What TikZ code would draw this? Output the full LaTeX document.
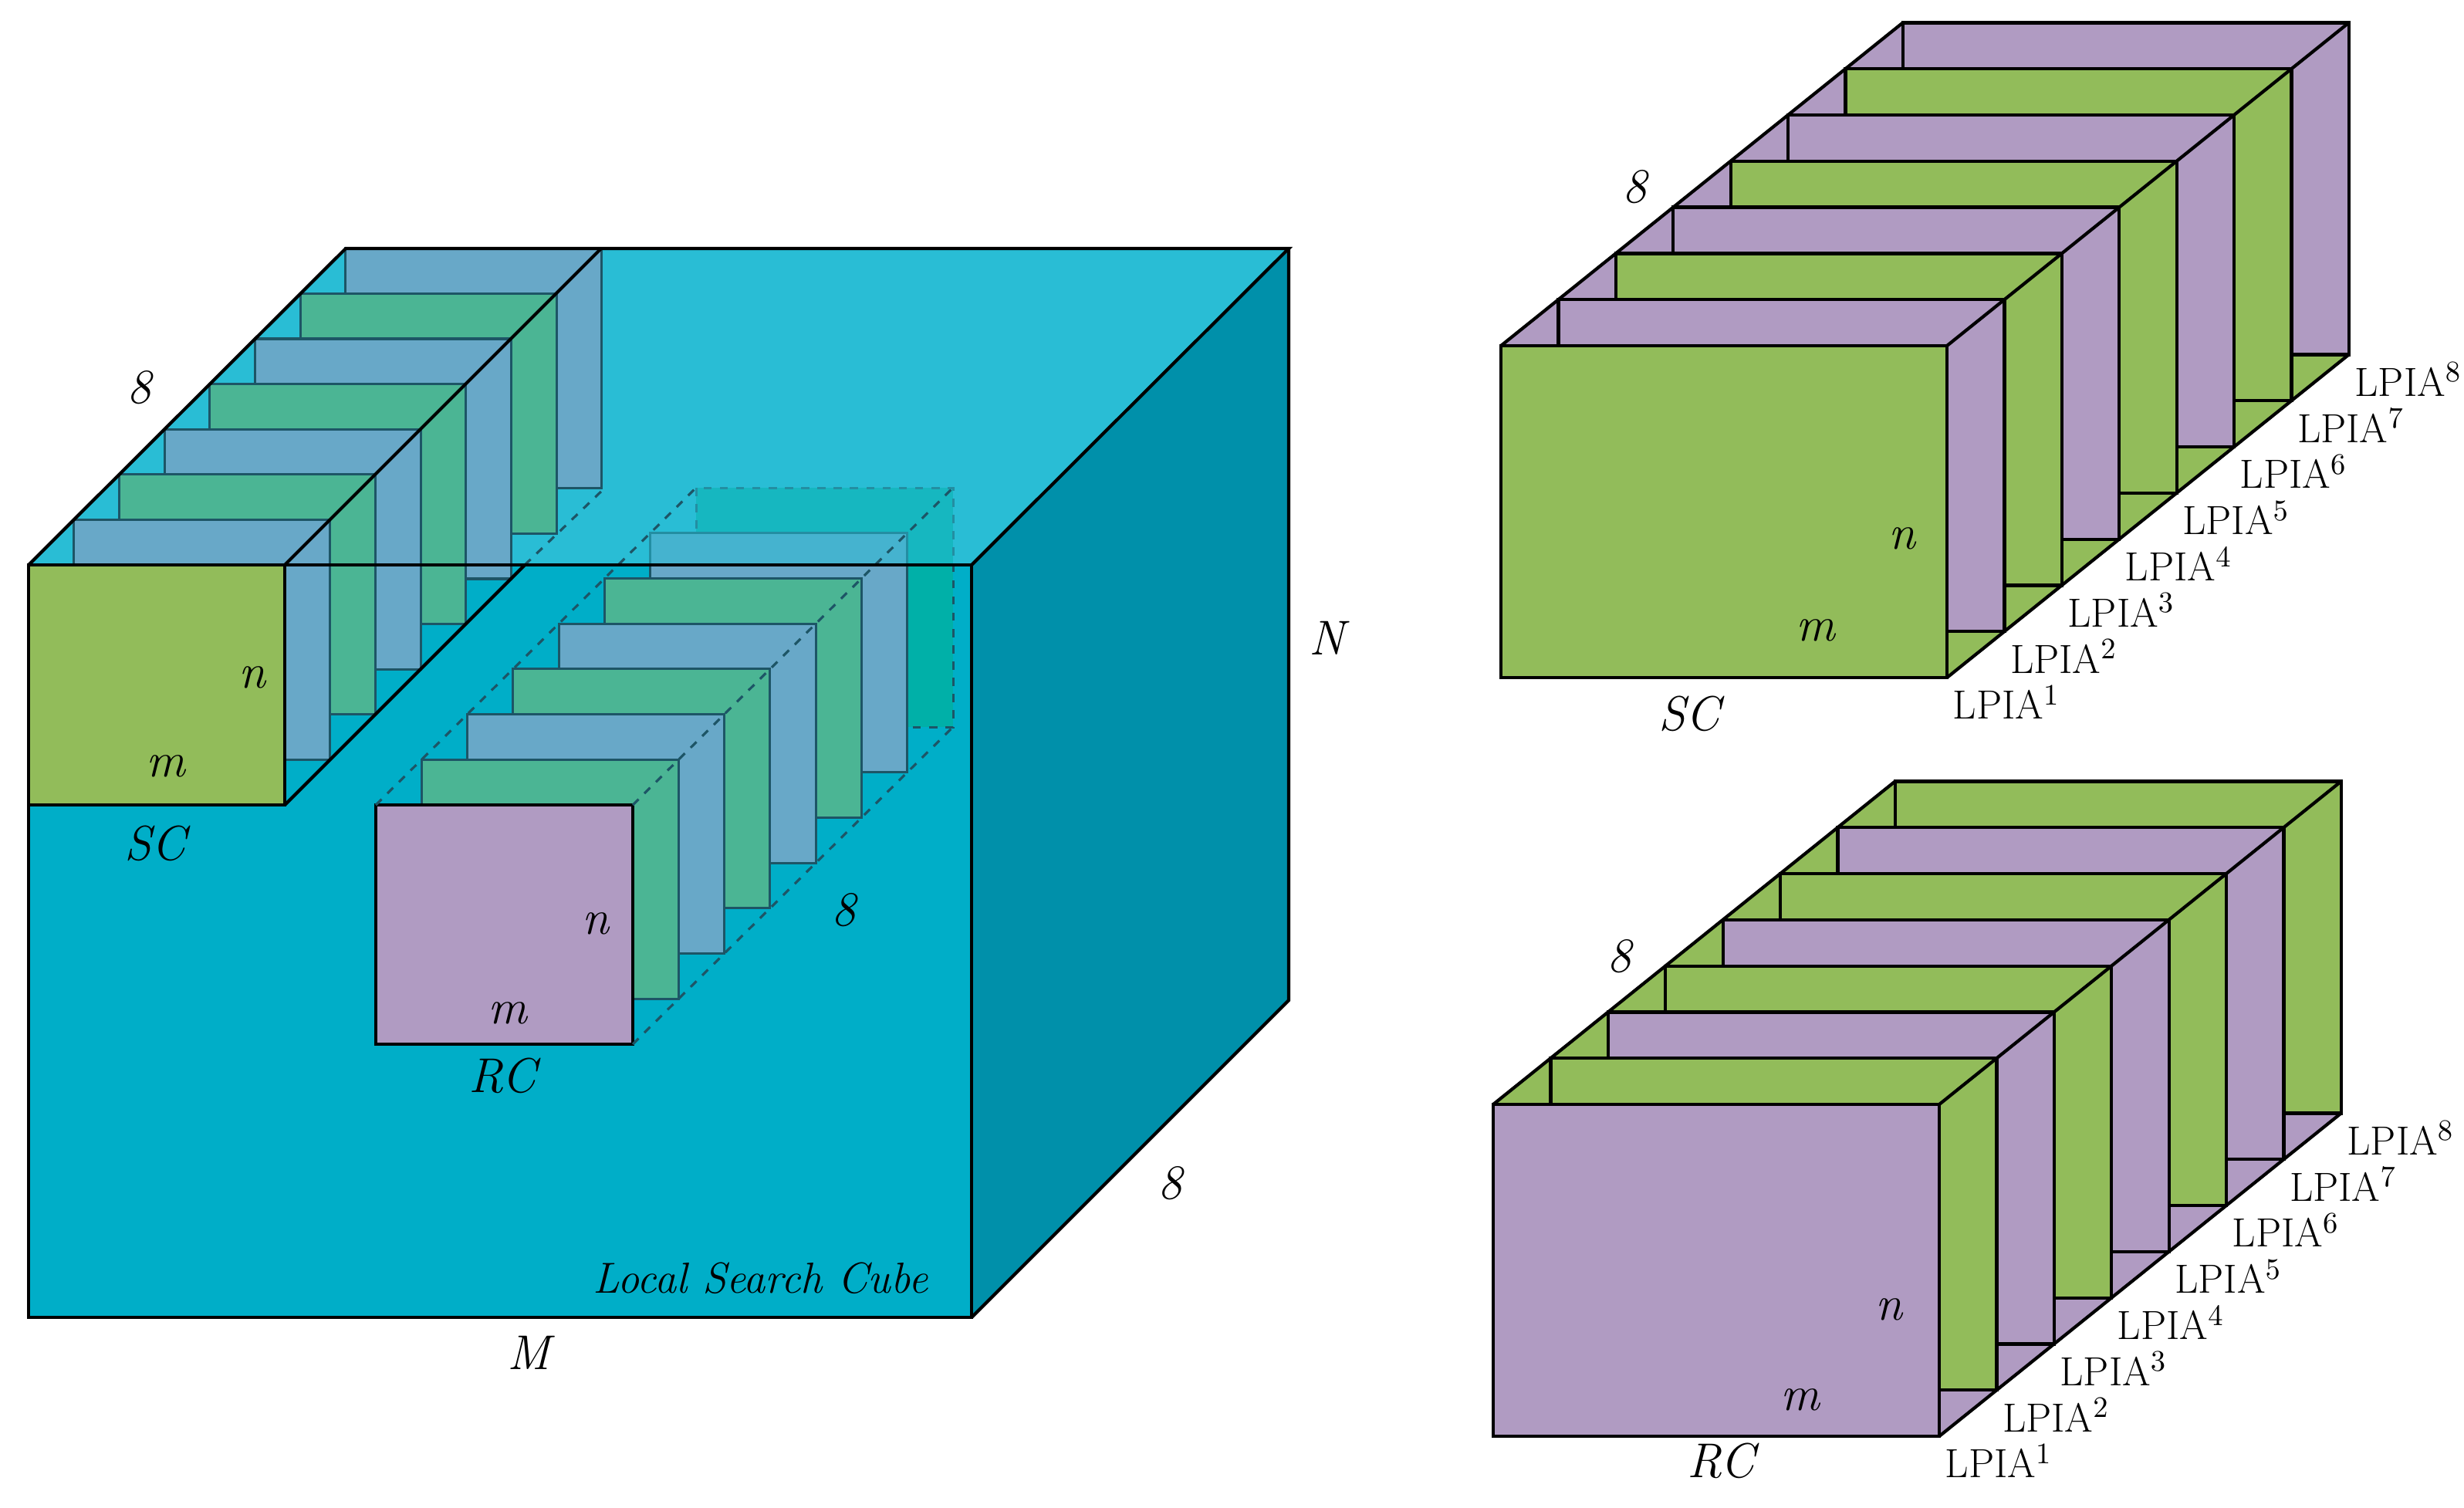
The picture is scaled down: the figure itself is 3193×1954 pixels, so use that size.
\documentclass[tikz,border=0pt]{standalone}
\definecolor{cfront}{HTML}{00AEC8}
\definecolor{ctop}{HTML}{29BDD5}
\definecolor{cright}{HTML}{0090AA}
\definecolor{cgreen}{HTML}{92BC5A}
\definecolor{cpurple}{HTML}{B09BC2}
\definecolor{cblue}{HTML}{68A8C8}
\definecolor{cteal}{HTML}{4BB594}
\definecolor{cback}{HTML}{00B0A8}
\definecolor{cedge}{HTML}{1D5566}
\tikzset{
 lbl/.style={font=\fontsize{18}{21}\selectfont\itshape, inner sep=0pt},
 lp/.style={font=\fontsize{15}{18}\selectfont, inner sep=0pt, anchor=north west},
 edge/.style={draw=black, line width=1.2pt},
 tedge/.style={draw=cedge, line width=0.9pt}
}
\newcommand{\rfig}[4]{%
 \def\XO{#1}\def\YO{#2}%
 \fill[#4] (\XO,\YO) -- ++(520.8,-418.6) -- ++(578,0) -- (\XO+578,\YO) -- cycle;
 \fill[#3] (\XO+578,\YO) -- ++(520.8,-418.6) -- ++(0,430) -- (\XO+578,\YO+430) -- cycle;
 \foreach \k in {7,...,0}{
   \pgfmathtruncatemacro{\pty}{mod(\k,2)}
   \ifnum\pty=0 \def\pc{#3}\else\def\pc{#4}\fi
   \filldraw[fill=\pc, edge] ({\XO+74.4*\k},{\YO-59.8*\k}) rectangle ++(578,430);
 }
 \draw[edge] (\XO,\YO) -- ++(520.8,-418.6);
 \draw[edge] (\XO+578,\YO) -- ++(520.8,-418.6);
 \draw[edge] (\XO+578,\YO+430) -- ++(520.8,-418.6);
 \foreach \k in {1,...,8}{
   \node[lp] at ({\XO+578+74.4*(\k-1)+7},{\YO+430-59.8*(\k-1)+10}) {LPIA$^{\k}$};
 }
}
\begin{document}
\begin{tikzpicture}[x=0.01cm,y=-0.01cm]
\useasboundingbox (0,0) rectangle (3193,1954);
% main cube
\fill[cfront] (37,732) rectangle (1259,1707);
\fill[ctop] (37,732) -- (448,322) -- (1670,322) -- (1259,732) -- cycle;
\fill[cright] (1259,732) -- (1670,322) -- (1670,1296) -- (1259,1707) -- cycle;
% RC plates
\foreach \k in {7,...,1}{
  \pgfmathtruncatemacro{\pty}{mod(\k,2)}
  \ifnum\k=7 \def\pc{cback}\else\ifnum\pty=1 \def\pc{cteal}\else\def\pc{cblue}\fi\fi
  \ifnum\k=7
    \filldraw[fill=\pc, draw=cedge, line width=0.9pt, dashed] ({487+59.3*\k},{1043-58.7*\k}) rectangle ++(333,310);
  \else
    \filldraw[fill=\pc, tedge] ({487+59.3*\k},{1043-58.7*\k}) rectangle ++(333,310);
  \fi
}
\fill[ctop, opacity=0.55] (37,732) -- (448,322) -- (1670,322) -- (1259,732) -- cycle;
\filldraw[fill=cpurple, edge] (487,1043) rectangle (820,1353);
\draw[cedge, line width=0.9pt, dashed] (487,1043) -- (902,632);
\draw[cedge, line width=0.9pt, dashed] (820,1043) -- (1235,632);
\draw[cedge, line width=0.9pt, dashed] (820,1353) -- (1235,942);
% SC plates
\foreach \k in {7,...,1}{
  \pgfmathtruncatemacro{\pty}{mod(\k,2)}
  \ifnum\pty=1 \def\pc{cblue}\else\def\pc{cteal}\fi
  \filldraw[fill=\pc, tedge] ({37+58.7*\k},{732-58.6*\k}) rectangle ++(332,311);
}
\filldraw[fill=cgreen, edge] (37,732) rectangle (369,1043);
\draw[edge] (369,732) -- (779,322);
\draw[edge] (369,1043) -- (680,732);
\draw[cedge, line width=0.9pt, dashed] (680,732) -- (784,632);
% cube edges
\draw[edge] (37,732) rectangle (1259,1707);
\draw[edge] (37,732) -- (448,322) -- (1670,322) -- (1259,732);
\draw[edge] (1670,322) -- (1670,1296) -- (1259,1707);
% left labels
\node[lbl] at (180,502) {8};
\node[lbl] at (327,878) {n};
\node[lbl] at (215,993) {m};
\node[lbl] at (201,1093) {SC};
\node[lbl] at (772,1197) {n};
\node[lbl] at (658,1313) {m};
\node[lbl] at (651,1394) {RC};
\node[lbl] at (1093,1179) {8};
\node[lbl] at (1719,827) {N};
\node[lbl] at (1516,1533) {8};
\node[lbl, font=\fontsize{16}{19}\selectfont\itshape, anchor=east] at (1203,1656) {Local Search Cube};
\node[lbl] at (685,1753) {M};
% right figures
\rfig{1945}{448}{cgreen}{cpurple}
\node[lbl] at (2118,242) {8};
\node[lbl] at (2465,698) {n};
\node[lbl] at (2353,817) {m};
\node[lbl] at (2189,925) {SC};
\rfig{1935}{1431}{cpurple}{cgreen}
\node[lbl] at (2098,1239) {8};
\node[lbl] at (2448,1697) {n};
\node[lbl] at (2333,1814) {m};
\node[lbl] at (2230,1893) {RC};
\end{tikzpicture}
\end{document}
